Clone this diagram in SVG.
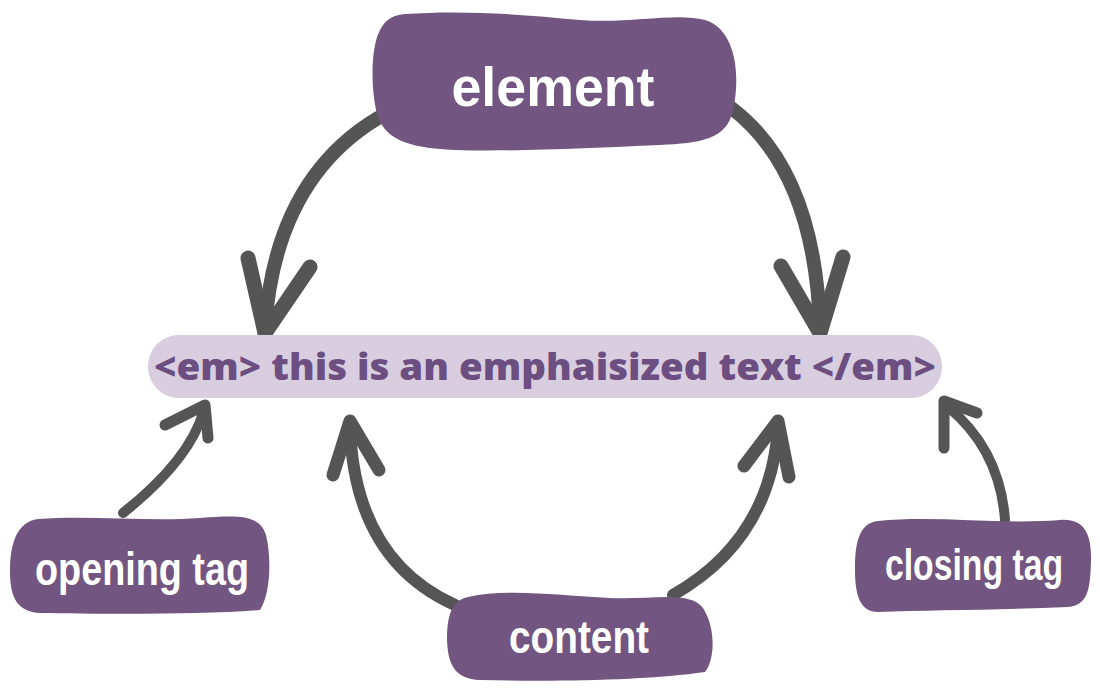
<svg xmlns="http://www.w3.org/2000/svg" width="1100" height="688" viewBox="0 0 1100 688">
<defs>
<style>
.blob{fill:#725580;}
.lbl{fill:#ffffff;font-family:"Liberation Sans","Noto Sans",sans-serif;font-weight:bold;text-anchor:middle;}
.arr{fill:none;stroke:#555555;stroke-linecap:round;stroke-linejoin:round;}
.code{fill:#6c4f80;font-family:"Open Sans","Liberation Sans",sans-serif;font-weight:800;text-anchor:middle;}
</style>
</defs>
<rect width="1100" height="688" fill="#ffffff"/>
<g id="connectors">
<path class="arr" stroke-width="14" d="M378,118 Q275,180 265,328"/>
<path class="arr" stroke-width="15" d="M248,258 L265,333 L310,267"/>
<path class="arr" stroke-width="14" d="M730,107 Q815,170 820,328"/>
<path class="arr" stroke-width="15" d="M781,266 L820,333 L843,257"/>
<path class="arr" stroke-width="10" d="M123,513 Q190,460 204,410"/>
<path class="arr" stroke-width="11" d="M165,425 L205,405 L208,438"/>
<path class="arr" stroke-width="12" d="M455,605 Q355,560 350,428"/>
<path class="arr" stroke-width="13" d="M333,475 L350,421 L379,470"/>
<path class="arr" stroke-width="12" d="M673,595 Q770,540 778,428"/>
<path class="arr" stroke-width="13" d="M744,466 L778,421 L789,477"/>
<path class="arr" stroke-width="10" d="M1005,520 Q1000,450 948,407"/>
<path class="arr" stroke-width="11" d="M944,448 L944,401 L977,413"/>
</g>
<g id="code-bar">
<rect x="148" y="335" width="794" height="63" rx="31" fill="#d8cee0"/>
<text class="code" x="545" y="380" font-size="37" textLength="782" lengthAdjust="spacingAndGlyphs">&lt;em&gt; this is an emphaisized text &lt;/em&gt;</text>
</g>
<g id="element">
<path class="blob" d="M405,14 C460,10 520,14 580,20 C630,24 675,12 705,20 C738,30 740,80 733,110 C727,140 700,143 660,145 C590,148 510,152 455,150 C405,148 382,138 376,110 C370,80 372,45 380,30 C386,18 395,15 405,14 Z"/>
<text class="lbl" x="553" y="106" font-size="56" textLength="203" lengthAdjust="spacingAndGlyphs">element</text>
</g>
<g id="opening-tag">
<path class="blob" d="M38,519 C90,515 150,522 200,518 C240,515 260,515 266,535 C272,560 270,595 260,610 C200,615 100,614 40,613 C18,612 10,598 10,572 C10,545 16,522 38,519 Z"/>
<text class="lbl" x="142" y="585" font-size="46" textLength="214" lengthAdjust="spacingAndGlyphs">opening tag</text>
</g>
<g id="closing-tag">
<path class="blob" d="M878,521 C935,515 1000,525 1060,520 C1085,518 1092,535 1091,562 C1090,590 1088,605 1068,607 C1000,610 930,610 878,612 C860,612 855,595 855,570 C855,545 858,523 878,521 Z"/>
<text class="lbl" x="974" y="580" font-size="44" textLength="178" lengthAdjust="spacingAndGlyphs">closing tag</text>
</g>
<g id="content">
<path class="blob" d="M468,597 C510,588 560,596 610,598 C650,600 690,590 703,608 C716,628 715,660 705,672 C650,680 560,682 480,680 C455,679 448,665 447,640 C447,615 452,600 468,597 Z"/>
<text class="lbl" x="579" y="653" font-size="46" textLength="140" lengthAdjust="spacingAndGlyphs">content</text>
</g>
</svg>
